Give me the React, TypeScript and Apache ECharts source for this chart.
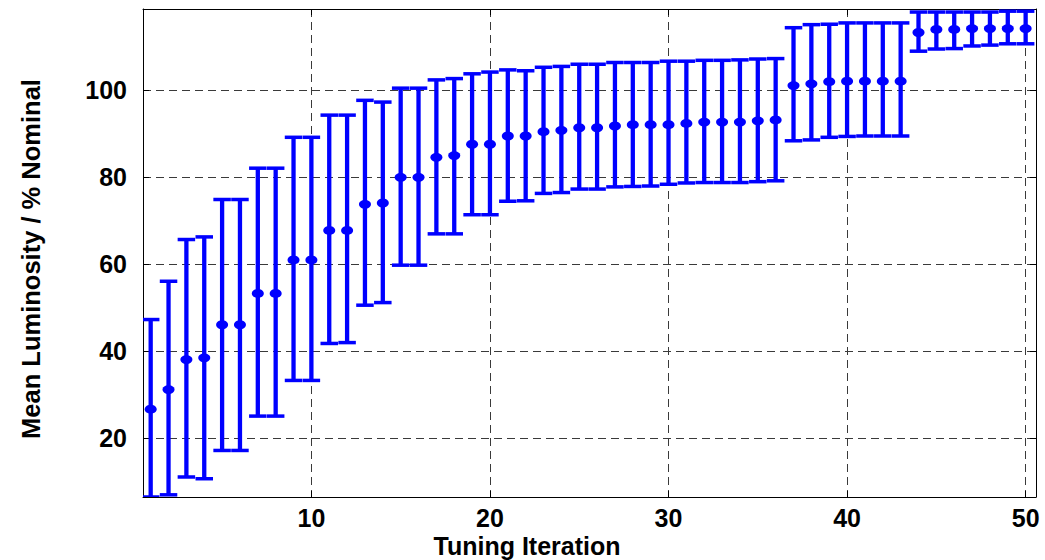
import React, { useEffect, useRef } from "react";
import * as echarts from "echarts";

const iterations = Array.from({ length: 50 }, (_, i) => i + 1);

const meanLum = [
  26.7, 31.2, 38.1, 38.5, 46.1, 46.1, 53.3, 53.3, 61.0, 61.0,
  67.8, 67.8, 73.8, 74.1, 80.0, 80.0, 84.6, 85.0, 87.6, 87.6,
  89.5, 89.5, 90.5, 90.8, 91.4, 91.4, 91.8, 92.1, 92.1, 92.1,
  92.4, 92.7, 92.7, 92.7, 93.0, 93.2, 101.1, 101.5, 102.0, 102.1,
  102.1, 102.1, 102.1, 113.3, 114.0, 114.0, 114.2, 114.2, 114.2, 114.2,
];

const upperLum = [
  47.3, 56.1, 65.7, 66.3, 74.9, 74.9, 82.1, 82.1, 89.2, 89.2,
  94.3, 94.3, 97.7, 97.3, 100.5, 100.5, 102.4, 102.7, 103.8, 104.2,
  104.7, 104.5, 105.3, 105.5, 106.0, 106.0, 106.4, 106.4, 106.4, 106.7,
  106.7, 106.9, 106.9, 107.0, 107.2, 107.3, 114.4, 115.1, 115.2, 115.5,
  115.5, 115.5, 115.5, 118.0, 118.0, 118.0, 118.0, 118.0, 118.2, 118.2,
];

const lowerLum = [
  6.5, 7.0, 11.1, 10.7, 17.2, 17.2, 25.1, 25.1, 33.3, 33.3,
  41.8, 42.0, 50.6, 51.2, 59.8, 59.8, 67.0, 67.0, 71.4, 71.4,
  74.5, 74.6, 76.3, 76.5, 77.3, 77.3, 77.8, 77.9, 78.0, 78.4,
  78.7, 78.8, 78.8, 78.8, 79.0, 79.2, 88.4, 88.6, 89.2, 89.4,
  89.5, 89.5, 89.5, 109.0, 109.5, 109.6, 110.2, 110.4, 110.7, 110.7,
];

const xTicks = [10, 20, 30, 40, 50];
const yTicks = [20, 40, 60, 80, 100];

const X_MIN = 0.57;
const X_MAX = 50.58;
const Y_MIN = 6.5;
const Y_MAX = 118.7;
const CAP_HALF = 0.49;

const FONT = '"Liberation Sans", Arial, Helvetica, sans-serif';
const BLUE = "#0000ff";

export default function App() {
  const ref = useRef<HTMLDivElement>(null);

  useEffect(() => {
    if (!ref.current) return;
    const chart = echarts.init(ref.current, undefined, { renderer: "svg" });

    const errData = iterations.map((x, i) => [x, lowerLum[i], upperLum[i]]);
    const meanData = iterations.map((x, i) => [x, meanLum[i]]);

    const labelStyle = {
      color: "#000",
      fontFamily: FONT,
      fontWeight: "bold" as const,
      fontSize: 25,
    };
    const gridLine = {
      show: true,
      lineStyle: { color: "#3a3a3a", width: 1, type: [8, 5] as any },
    };

    const option: any = {
      animation: false,
      backgroundColor: "#ffffff",
      grid: { left: 143, right: 9, top: 9, bottom: 63, containLabel: false },
      xAxis: [
        {
          type: "value",
          min: X_MIN,
          max: X_MAX,
          position: "bottom",
          axisLine: { show: true, onZero: false, lineStyle: { color: "#000", width: 1 } },
          axisTick: { show: true, inside: true, length: 6, customValues: xTicks, lineStyle: { color: "#000" } },
          axisLabel: { ...labelStyle, margin: 8, customValues: xTicks },
          splitLine: gridLine,
        },
        {
          type: "value",
          min: X_MIN,
          max: X_MAX,
          position: "top",
          axisLine: { show: true, onZero: false, lineStyle: { color: "#000", width: 1 } },
          axisTick: { show: true, inside: true, length: 6, customValues: xTicks, lineStyle: { color: "#000" } },
          axisLabel: { show: false },
          splitLine: { show: false },
        },
      ],
      yAxis: [
        {
          type: "value",
          min: Y_MIN,
          max: Y_MAX,
          position: "left",
          axisLine: { show: true, onZero: false, lineStyle: { color: "#000", width: 1 } },
          axisTick: { show: true, inside: true, length: 6, customValues: yTicks, lineStyle: { color: "#000" } },
          axisLabel: { ...labelStyle, margin: 16, customValues: yTicks },
          splitLine: gridLine,
        },
        {
          type: "value",
          min: Y_MIN,
          max: Y_MAX,
          position: "right",
          axisLine: { show: true, onZero: false, lineStyle: { color: "#000", width: 1 } },
          axisTick: { show: true, inside: true, length: 6, customValues: yTicks, lineStyle: { color: "#000" } },
          axisLabel: { show: false },
          splitLine: { show: false },
        },
      ],
      series: [
        {
          type: "custom",
          xAxisIndex: 0,
          yAxisIndex: 0,
          clip: true,
          data: errData,
          encode: { x: 0, y: [1, 2] },
          renderItem: (params: any, api: any) => {
            const x = api.value(0);
            const lo = api.value(1);
            const hi = api.value(2);
            const top = api.coord([x, hi]);
            const bot = api.coord([x, lo]);
            const tl = api.coord([x - CAP_HALF, hi]);
            const tr = api.coord([x + CAP_HALF, hi]);
            const bl = api.coord([x - CAP_HALF, lo]);
            const br = api.coord([x + CAP_HALF, lo]);
            const style = { stroke: BLUE, lineWidth: 4.3, fill: "none" };
            const capStyle = { stroke: BLUE, lineWidth: 3.5, fill: "none" };
            return {
              type: "group",
              children: [
                { type: "line", shape: { x1: top[0], y1: top[1], x2: bot[0], y2: bot[1] }, style },
                { type: "line", shape: { x1: tl[0], y1: tl[1], x2: tr[0], y2: tr[1] }, style: capStyle },
                { type: "line", shape: { x1: bl[0], y1: bl[1], x2: br[0], y2: br[1] }, style: capStyle },
              ],
            };
          },
          z: 2,
        },
        {
          type: "scatter",
          xAxisIndex: 0,
          yAxisIndex: 0,
          data: meanData,
          symbol: "circle",
          symbolSize: [12, 9],
          itemStyle: { color: BLUE, opacity: 1 },
          z: 3,
        },
      ],
      graphic: [
        {
          type: "text",
          x: 31,
          y: 259,
          rotation: Math.PI / 2,
          style: {
            text: "Mean Luminosity / % Nominal",
            fill: "#000",
            font: `bold 25.5px ${FONT}`,
            align: "center",
            verticalAlign: "middle",
          },
        },
        {
          type: "text",
          x: 527,
          y: 546,
          style: {
            text: "Tuning Iteration",
            fill: "#000",
            font: `bold 25px ${FONT}`,
            align: "center",
            verticalAlign: "middle",
          },
        },
      ],
    };

    chart.setOption(option);
    return () => chart.dispose();
  }, []);

  return (
    <div
      ref={ref}
      style={{ position: "absolute", left: 0, top: 0, width: 1045, height: 560, background: "#fff" }}
    />
  );
}
